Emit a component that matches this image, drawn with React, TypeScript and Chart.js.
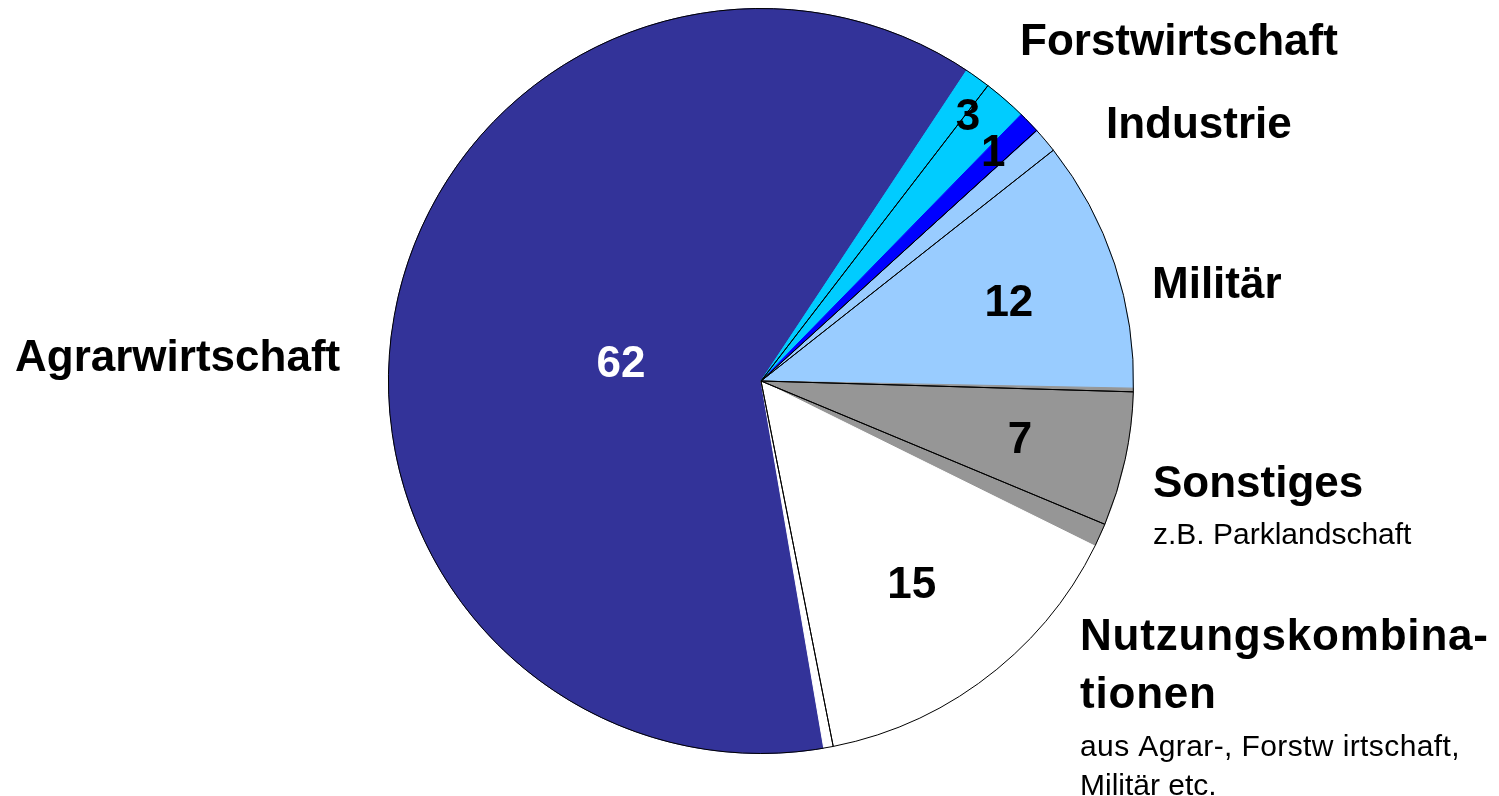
import React, { useEffect, useRef } from "react";
import { Chart, registerables } from "chart.js";

Chart.register(...registerables);

// ---- data ----
const categories = [
  "Agrarwirtschaft",
  "Forstwirtschaft",
  "Industrie",
  "Militär",
  "Sonstiges",
  "Nutzungskombinationen",
];
const shares = [62, 3, 1, 12, 7, 15];
// the black slice outlines in the source are drawn out of register with the fills;
// these are the outline segment sizes (percent) as seen in the picture
const outlineShares = [63.53, 2.83, 1.11, 11.1, 5.82, 15.61];
const categoryLines = [
  ["Agrarwirtschaft"],
  ["Forstwirtschaft"],
  ["Industrie"],
  ["Militär"],
  ["Sonstiges", "z.B. Parklandschaft"],
  ["Nutzungskombina-", "tionen", "aus Agrar-, Forstw irtschaft,", "Militär etc."],
];

// ---- styles / layout ----
const sliceColors = ["#333399", "#00CCFF", "#0000FF", "#99CCFF", "#969696", "#FFFFFF"];
const valueColors = ["#FFFFFF", "#000000", "#000000", "#000000", "#000000", "#000000"];
const fillRotation = 170.3;
const outlineRotation = 168.82;
// radial fraction and small angular nudge (deg) for each value label
const valueLabelRadius = [0.38, 0.907, 0.879, 0.7, 0.711, 0.675];
const valueLabelNudge = [-3.7, -1.1, -0.9, 2.4, -1.5, -0.15];
// x and baselines for the category texts
const categoryX = [15, 1020, 1106, 1152, 1153, 1080];
const categoryBaselines = [[371], [55], [138], [298], [497, 544], [650, 708, 756, 795]];
const categoryBold = [[true], [true], [true], [true], [true, false], [true, true, false, false]];
const categorySpacing = [[0], [0], [0], [0], [0, 0], [0.8, 0.8, 0.4, 0]];

const FONT = '"Liberation Sans", Arial, Helvetica, sans-serif';
const W = 1499;
const H = 796;
const padding = { left: 388, right: 365, top: 8, bottom: 42 };

export default function App() {
  const fillRef = useRef<HTMLCanvasElement>(null);
  const lineRef = useRef<HTMLCanvasElement>(null);

  useEffect(() => {
    const common = {
      responsive: false,
      animation: false as const,
      events: [] as any[],
      layout: { padding },
      plugins: { legend: { display: false }, tooltip: { enabled: false } },
    };

    const fillChart = new Chart(fillRef.current!, {
      type: "pie",
      data: {
        labels: categories,
        datasets: [
          {
            data: shares,
            backgroundColor: sliceColors,
            borderColor: sliceColors,
            borderWidth: 1,
          },
        ],
      },
      options: { ...common, rotation: fillRotation } as any,
    });

    const textPlugin = {
      id: "texts",
      afterDraw(chart: any) {
        const ctx = chart.ctx as any;
        ctx.save();
        // value labels, placed from the fill arcs
        const arcs = fillChart.getDatasetMeta(0).data as any[];
        ctx.font = `bold 44px ${FONT}`;
        ctx.textAlign = "center";
        ctx.textBaseline = "alphabetic";
        arcs.forEach((arc, i) => {
          const p = arc.getProps(["startAngle", "endAngle", "outerRadius", "x", "y"], true);
          const mid = (p.startAngle + p.endAngle) / 2 + (valueLabelNudge[i] * Math.PI) / 180;
          const r = p.outerRadius * valueLabelRadius[i];
          const px = p.x + Math.cos(mid) * r;
          const py = p.y + Math.sin(mid) * r;
          ctx.fillStyle = valueColors[i];
          ctx.fillText(String(shares[i]), px, py + (0.716 * 44) / 2);
        });
        // category texts
        ctx.textAlign = "left";
        ctx.fillStyle = "#000000";
        categoryLines.forEach((lines, i) => {
          lines.forEach((line, j) => {
            ctx.font = categoryBold[i][j] ? `bold 44px ${FONT}` : `30px ${FONT}`;
            if ("letterSpacing" in ctx) ctx.letterSpacing = `${categorySpacing[i][j]}px`;
            ctx.fillText(line, categoryX[i], categoryBaselines[i][j]);
          });
        });
        ctx.restore();
      },
    };

    const lineChart = new Chart(lineRef.current!, {
      type: "pie",
      data: {
        labels: categories,
        datasets: [
          {
            data: outlineShares,
            backgroundColor: "rgba(0,0,0,0)",
            borderColor: "#000000",
            borderWidth: 1,
          },
        ],
      },
      options: { ...common, rotation: outlineRotation } as any,
      plugins: [textPlugin],
    });

    return () => {
      lineChart.destroy();
      fillChart.destroy();
    };
  }, []);

  const canvasStyle: React.CSSProperties = {
    position: "absolute",
    left: 0,
    top: 0,
    width: W,
    height: H,
  };

  return (
    <div style={{ position: "absolute", left: 0, top: 0, width: W, height: H, background: "#fff" }}>
      <canvas ref={fillRef} width={W} height={H} style={canvasStyle} />
      <canvas ref={lineRef} width={W} height={H} style={canvasStyle} />
    </div>
  );
}
